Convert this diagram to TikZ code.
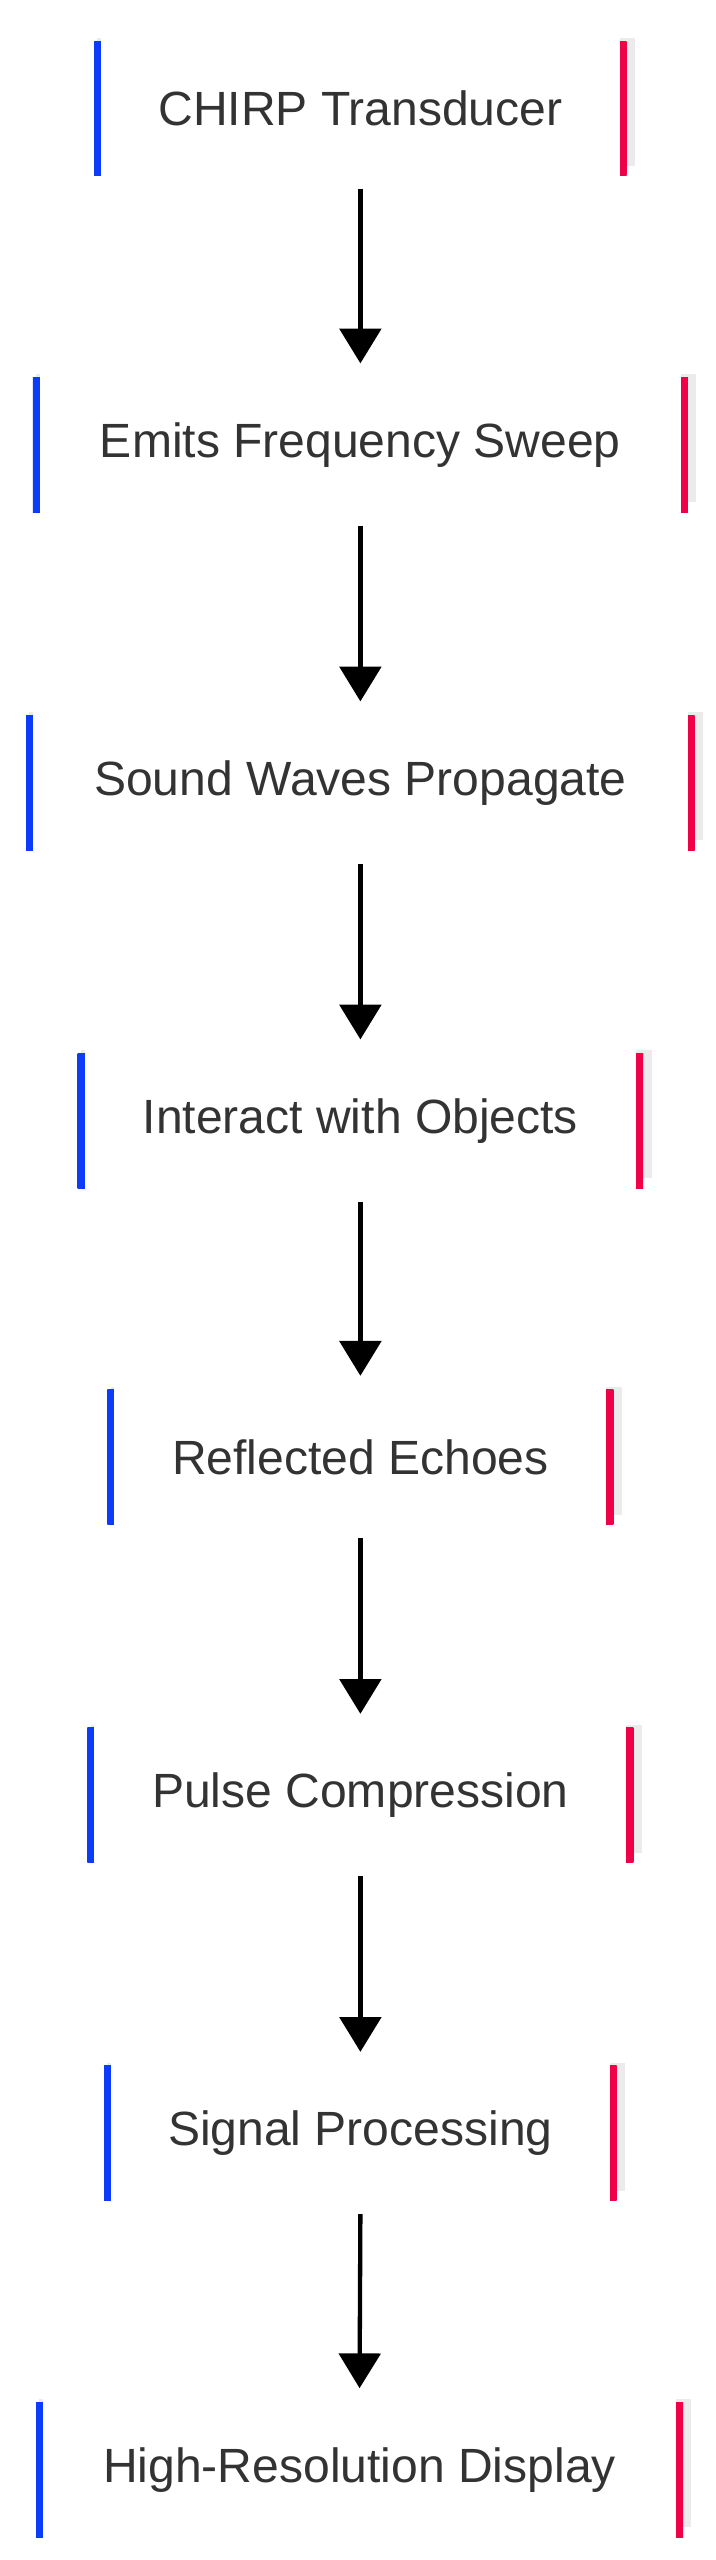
\documentclass[tikz,border=0pt]{standalone}
\usepackage{fontspec}
\setmainfont{Liberation Sans}
\usetikzlibrary{arrows.meta,backgrounds}
\definecolor{cblue}{RGB}{10,60,250}
\definecolor{cred}{RGB}{240,0,70}
\definecolor{ctext}{RGB}{51,51,51}
\tikzset{
  box/.style={fill=white,inner sep=0pt,text=ctext,font=\fontsize{29}{34}\selectfont,minimum height=89pt},
  conn/.style={line width=2.6pt,-{Triangle[width=25pt,length=21pt]}}
}
\newcommand{\mybox}[5]{% name, x1, x2, y1, text
  \pgfmathsetmacro{\bxcx}{(#2+#3)/2}\pgfmathsetmacro{\bxw}{#3-#2-8}
  \node[box,minimum width=\bxw pt] (#1) at (\bxcx,#4+48.5) {#5};
  \begin{scope}[on background layer]
    \fill[black!8] ([shift={(-2,2)}]#1.north west) rectangle ([shift={(9,-10)}]#1.south east);
    \shade[left color=cblue,right color=cred] ([shift={(-4,4)}]#1.north west) rectangle ([shift={(4,-4)}]#1.south east);
  \end{scope}}
\begin{document}
\begin{tikzpicture}[x=1pt,y=-1pt]
\useasboundingbox (0,0) rectangle (432,1545);
\begin{scope}[on background layer]
\fill[white] (0,0) rectangle (432,1545);
\end{scope}
\mybox{a}{57}{378}{17}{CHIRP Transducer}
\mybox{b}{20}{415}{220}{Emits Frequency Sweep}
\mybox{c}{16}{419}{424}{Sound Waves Propagate}
\mybox{d}{47}{388}{628}{Interact with Objects}
\mybox{e}{65}{370}{831}{Reflected Echoes}
\mybox{f}{53}{382}{1035}{Pulse Compression}
\mybox{g}{63}{372}{1239}{Signal Processing}
\mybox{h}{22}{412}{1442}{High-Resolution Display}
\foreach \u/\v in {a/b,b/c,c/d,d/e,e/f,f/g,g/h}
  \draw[conn] ([yshift=-4pt]\u.south) -- ([yshift=4.5pt]\v.north);
\end{tikzpicture}
\end{document}
